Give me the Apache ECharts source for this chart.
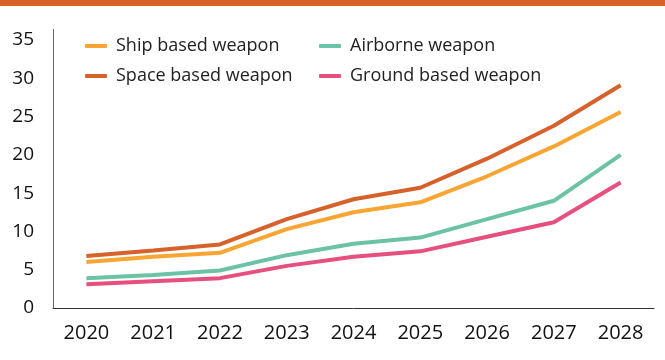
<!DOCTYPE html>
<html><head><meta charset="utf-8">
<script src="https://cdn.jsdelivr.net/npm/echarts@6/dist/echarts.min.js"></script>
<style>html,body{margin:0;padding:0;background:#fff}#c{width:665px;height:360px}</style>
</head><body><div id="c"></div>
<script>
const years = ['2020','2021','2022','2023','2024','2025','2026','2027','2028'];
const shipBased = [6.0, 6.7, 7.2, 10.3, 12.5, 13.8, 17.2, 21.1, 25.6];
const spaceBased = [6.8, 7.5, 8.3, 11.6, 14.2, 15.7, 19.5, 23.8, 29.1];
const airborne = [3.9, 4.3, 4.9, 6.9, 8.4, 9.2, 11.6, 14.0, 20.0];
const groundBased = [3.1, 3.5, 3.9, 5.5, 6.7, 7.4, 9.3, 11.2, 16.4];
const yTicks = [0, 5, 10, 15, 20, 25, 30, 35];

const font = 'Open Sans';
const chart = echarts.init(document.getElementById('c'));
const mk = (name, data, color) => ({
  name, type: 'line', data, symbol: 'none', smooth: false,
  lineStyle: { width: 4, color }, itemStyle: { color }
});
const legendText = { fontFamily: font, fontSize: 18, color: '#222', padding: [0, 0, 0, 4] };
chart.setOption({
  animation: false,
  graphic: [
    { type: 'rect', shape: { x: 0, y: 0, width: 665, height: 6 }, style: { fill: '#D9622B' } },
    { type: 'line', shape: { x1: 53.5, y1: 29, x2: 53.5, y2: 40 }, style: { stroke: '#666', lineWidth: 1 } }
  ],
  grid: { left: 53, right: 11, top: 40, bottom: 52, containLabel: false },
  legend: [
    { data: ['Ship based weapon', 'Space based weapon'], orient: 'vertical', left: 80, top: 32,
      itemWidth: 22, itemHeight: 4, itemGap: 12, icon: 'roundRect', textStyle: legendText },
    { data: ['Airborne weapon', 'Ground based weapon'], orient: 'vertical', left: 314, top: 32,
      itemWidth: 22, itemHeight: 4, itemGap: 12, icon: 'roundRect', textStyle: legendText }
  ],
  xAxis: {
    type: 'category', data: years, boundaryGap: true,
    axisLine: { lineStyle: { color: '#333', width: 1 } },
    axisTick: { show: false },
    axisLabel: { fontFamily: font, fontSize: 20, color: '#111', margin: 15 }
  },
  yAxis: {
    type: 'value', min: 0, max: 35, interval: 5,
    axisLine: { show: true, lineStyle: { color: '#666', width: 1 } },
    axisTick: { show: false }, splitLine: { show: false },
    axisLabel: { fontFamily: font, fontSize: 19, color: '#111', margin: 19,
      formatter: v => yTicks.includes(v) ? String(v) : '' }
  },
  series: [
    mk('Ship based weapon', shipBased, '#F9A533'),
    mk('Airborne weapon', airborne, '#6CC2A6'),
    mk('Space based weapon', spaceBased, '#D7612A'),
    mk('Ground based weapon', groundBased, '#E6507F')
  ]
});
</script></body></html>
